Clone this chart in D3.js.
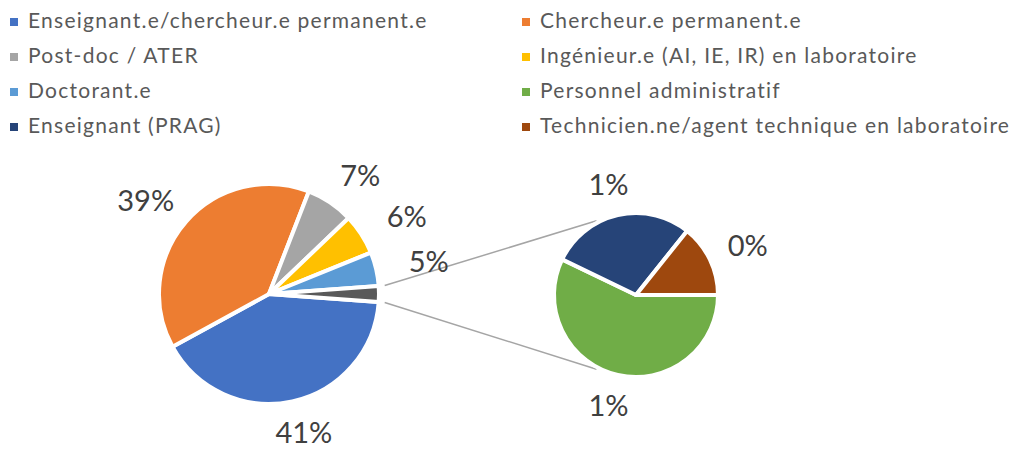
<!DOCTYPE html>
<html lang="fr">
<head>
<meta charset="utf-8" />
<title>Pie of pie</title>
<style>
  * {margin: 0; padding: 0;}
  body {background: #fff;}
  text {font-family: Lato, "Open Sans", sans-serif;}
</style>
</head>
<body>
<div id="viz"></div>
<script src="https://cdn.jsdelivr.net/npm/d3@7"></script>
<script>
// categories in the order of the legend (row by row)
var categories = ["Enseignant.e/chercheur.e permanent.e", "Chercheur.e permanent.e",
                  "Post-doc / ATER", "Ingénieur.e (AI, IE, IR) en laboratoire",
                  "Doctorant.e", "Personnel administratif",
                  "Enseignant (PRAG)", "Technicien.ne/agent technique en laboratoire"];
var counts = [123, 117, 21, 18, 15, 4, 2, 1];
var colors = ["#4472C4", "#ED7D31", "#A5A5A5", "#FFC000", "#5B9BD5", "#70AD47", "#264478", "#9E480E"];
var otherColor = "#595959";
var nMain = 5;   // the rest goes to the small pie

var w = 1012, h = 451;
var total = d3.sum(counts);
var pct = function(v){ return Math.round(v / total * 100) + "%"; };

var svg = d3.select("#viz").append("svg").attr("width", w).attr("height", h);

// legend, two columns, filled row by row
var leg = svg.append("g").selectAll("g")
    .data(categories)
    .enter().append("g")
    .attr("transform", function(d, i){
        return "translate(" + (i % 2 ? 522 : 10) + "," + (28 + Math.floor(i / 2) * 35) + ")"; });
leg.append("rect")
    .attr("x", 0).attr("y", -10).attr("width", 8).attr("height", 8)
    .style("fill", function(d, i){ return colors[i]; });
leg.append("text")
    .attr("x", 18)
    .style("font-size", "21px")
    .style("letter-spacing", "1.25px")
    .style("fill", "#595959")
    .text(function(d){ return d; });

// main pie
var mainData = counts.slice(0, nMain).map(function(v, i){ return {v: v, c: colors[i]}; });
var otherSum = d3.sum(counts.slice(nMain));
mainData.push({v: otherSum, c: otherColor, other: true});
var otherAng = 2 * Math.PI * otherSum / total;

var c1 = [269, 294], r1 = 110;
var c2 = [636, 295], r2 = 82;

var pie1 = d3.pie().sort(null).value(function(d){ return d.v; })
    .startAngle(Math.PI / 2 + otherAng / 2)
    .endAngle(Math.PI / 2 + otherAng / 2 + 2 * Math.PI);
var arc1 = d3.arc().innerRadius(0).outerRadius(r1);
var arcs1 = pie1(mainData);

// small pie: administratif, PRAG, technicien
var subData = counts.slice(nMain).map(function(v, i){ return {v: v, c: colors[nMain + i]}; });
var pie2 = d3.pie().sort(null).value(function(d){ return d.v; })
    .startAngle(Math.PI / 2).endAngle(Math.PI / 2 + 2 * Math.PI);
var arc2 = d3.arc().innerRadius(0).outerRadius(r2);
var arcs2 = pie2(subData);

// connector lines
var oth = arcs1[arcs1.length - 1];
function pt(c, r, a){ return [c[0] + r * Math.sin(a), c[1] - r * Math.cos(a)]; }
var tA = 28 * Math.PI / 180;
var links = [[pt(c1, r1 + 6, oth.startAngle), pt(c2, r2 + 2, -tA)],
             [pt(c1, r1 + 6, oth.endAngle), pt(c2, r2 + 2, Math.PI + tA)]];
svg.append("g").selectAll("line").data(links).enter().append("line")
    .attr("x1", function(d){ return d[0][0]; }).attr("y1", function(d){ return d[0][1]; })
    .attr("x2", function(d){ return d[1][0]; }).attr("y2", function(d){ return d[1][1]; })
    .style("stroke", "#A5A5A5").style("stroke-width", 1.5);

// gx, gy: how far outside the rim the label centre sits (horizontal / vertical)
function drawPie(arcs, arc, c, r, gx, gy){
    var g = svg.append("g").attr("transform", "translate(" + c[0] + "," + c[1] + ")");
    g.selectAll("path").data(arcs).enter().append("path")
        .attr("d", arc)
        .style("fill", function(d){ return d.data.c; })
        .style("stroke", "#fff").style("stroke-width", 4)
        .style("stroke-linejoin", "round");
    g.selectAll("text").data(arcs.filter(function(d){ return !d.data.other; }))
        .enter().append("text")
        .attr("transform", function(d){
            var a = (d.startAngle + d.endAngle) / 2;
            return "translate(" + ((r + gx) * Math.sin(a)) + "," + (-(r + gy) * Math.cos(a)) + ")"; })
        .attr("text-anchor", "middle")
        .attr("dy", "0.36em")
        .style("font-size", "29px")
        .style("fill", "#404040")
        .text(function(d){ return pct(d.data.v); });
}
drawPie(arcs1, arc1, c1, r1, 54, 32);
drawPie(arcs2, arc2, c2, r2, 42, 31);
</script>
</body>
</html>
